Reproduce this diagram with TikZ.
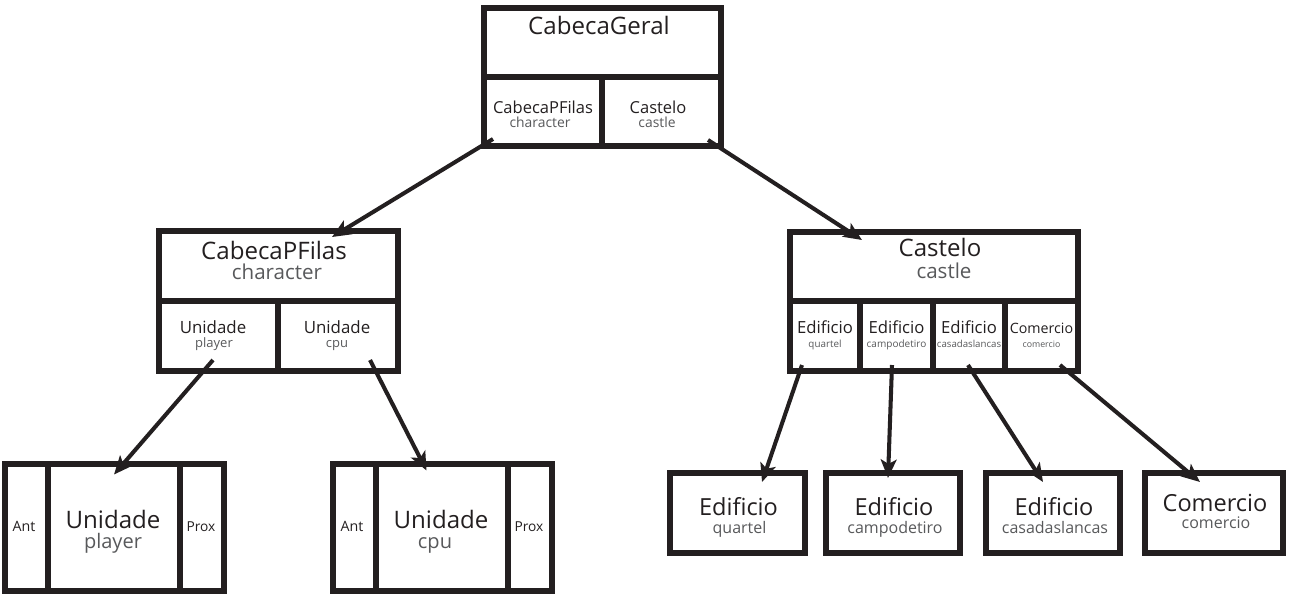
\documentclass[tikz,border=0pt]{standalone}
\usepackage{fontspec}
\setmainfont{Open Sans}
\usetikzlibrary{arrows.meta,calc,positioning}
\definecolor{fg}{RGB}{35,31,32}
\definecolor{mu}{RGB}{88,89,91}
\tikzset{
  every picture/.style={fg, line join=miter},
  % Kästen (Breite/Höhe in Pixeln)
  cell/.style 2 args={draw=fg, line width=3.4pt, minimum width=#1*0.02cm,
    minimum height=#2*0.02cm, inner sep=0pt, outer sep=0pt},
  % Beschriftung
  txt/.style={anchor=base, inner sep=0pt, font=\fontsize{#1}{#1}\selectfont},
  sub/.style={txt={#1}, text=mu},
  % Pfeile
  pfeil/.style={line width=2.3pt, -{Stealth[length=10.5pt,width=9pt,inset=2.5pt]}},
}
\begin{document}
\begin{tikzpicture}[x=0.02cm, y=-0.02cm]
  \useasboundingbox (0,0) rectangle (1290,600);
  % Kopf oben
  \node[cell={237}{69}] (gHead) at (602.5,42.5) {};
  \node[cell={118}{69}] (gP) at (543,111.5) {};
  \node[cell={119}{69}] (gC) at (661.5,111.5) {};
  \node[txt=13.7] (tGeral) at (599,34) {CabecaGeral};
  \node[txt=9.4] (tgP) at (543,113) {CabecaPFilas};
  \node[sub=7.9] (sgP) at (540,127) {character};
  \node[txt=9.4] (tgC) at (658,113) {Castelo};
  \node[sub=7.9] (sgC) at (657,127) {castle};
  % Ebene 2: CabecaPFilas
  \node[cell={239}{70}] (pHead) at (278.5,266) {};
  \node[cell={119}{70}] (pPlayer) at (218.5,336) {};
  \node[cell={120}{70}] (pCpu) at (338,336) {};
  \node[txt=13.7] (tpHead) at (274,259) {CabecaPFilas};
  \node[sub=11.7] (spHead) at (277,279) {character};
  \node[txt=9.6] (tpPlayer) at (213,333) {Unidade};
  \node[sub=7.4] (spPlayer) at (214,347) {player};
  \node[txt=9.6] (tpCpu) at (337,333) {Unidade};
  \node[sub=7.4] (spCpu) at (337,347) {cpu};
  % Ebene 2: Castelo
  \node[cell={288}{69}] (cHead) at (934,266.5) {};
  \node[txt=13.7] (tcHead) at (940,256) {Castelo};
  \node[sub=11.7] (scHead) at (944,278) {castle};
  \foreach \n/\x/\w/\ta/\tb/\sa/\sb in {cQuartel/825/70/Edificio/quartel/9.5/5.6,
      cCampo/896.5/73/Edificio/campodetiro/9.5/5.7, cCasa/969/72/Edificio/casadaslancas/9.5/5.5,
      cCom/1041.5/73/Comercio/comercio/8.1/5} {
    \node[cell={\w}{70}] (\n) at (\x,336) {};
    \node[txt=\sa] (t\n) at (\x,333) {\ta};
    \node[sub=\sb] (s\n) at (\x,347) {\tb};
  }
  % Ebene 3: Unidade mit Ant/Prox
  \foreach \n/\d/\s/\xs in {Player/0/player/113, Cpu/328/cpu/435} {
    \node[cell={43}{127}] (a\n) at (26.5+\d,527) {};
    \node[cell={132}{127}] (u\n) at (114+\d,527) {};
    \node[cell={44}{127}] (x\n) at (202+\d,527) {};
    \node[txt=8.1] (ta\n) at (24+\d,531) {Ant};
    \node[txt=13.7] (tu\n) at (113+\d,528) {Unidade};
    \node[sub=11.4] (su\n) at (\xs,548) {\s};
    \node[txt=7.8] (tx\n) at (201+\d,531) {Prox};
  }
  % Ebene 3: Gebäude
  \foreach \n/\x/\w/\ta/\tb/\ya/\yb in {bQuartel/737.5/135/Edificio/quartel/515/533,
      bCampo/893/134/Edificio/campodetiro/515/533, bCasa/1053/134/Edificio/casadaslancas/515/533,
      bCom/1214/138/Comercio/comercio/511/528} {
    \node[cell={\w}{80}] (\n) at (\x,513) {};
    \node[txt=13.4] (t\n) at (\x+1,\ya) {\ta};
    \node[sub=9.1] (s\n) at (\x+2,\yb) {\tb};
  }
  % Verbindungen
  \draw[pfeil] ($(gP.south west)+(9,-7)$) -- ($(pHead.north)+(53.5,6)$);
  \draw[pfeil] ($(gC.south east)+(-13,-6)$) -- ($(cHead.north)+(-72,8)$);
  \draw[pfeil] ($(pPlayer.south)+(-5.5,-11)$) -- ($(uPlayer.north)+(0,11)$);
  \draw[pfeil] ($(pCpu.south)+(32,-11)$) -- ($(uCpu.north)+(-15.5,7)$);
  \draw[pfeil] ($(cQuartel.south)+(-23,-6)$) -- ($(bQuartel.north)+(24.5,9)$);
  \draw[pfeil] ($(cCampo.south)+(-4.5,-6)$) -- ($(bCampo.north)+(-5,5)$);
  \draw[pfeil] ($(cCasa.south)+(-1,-6)$) -- ($(bCasa.north)+(-10,9)$);
  \draw[pfeil] ($(cCom.south)+(18.5,-6)$) -- ($(bCom.north)+(-14,9)$);
\end{tikzpicture}
\end{document}
